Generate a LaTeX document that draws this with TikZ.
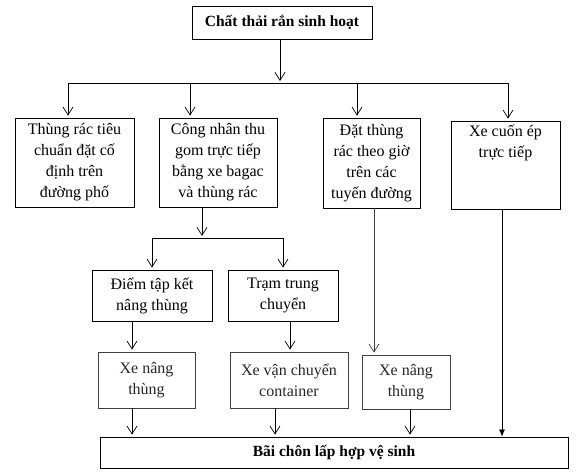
\documentclass[tikz,border=0pt]{standalone}
\usepackage{fontspec}
\setmainfont{Liberation Serif}
\usetikzlibrary{arrows.meta}
\tikzset{
  box/.style = {draw, line width=0.8pt, align=center, inner sep=0pt,
    font=\fontsize{16}{21}\selectfont},
  title/.style = {box, font=\fontsize{15.5}{21}\selectfont\bfseries},
  lite/.style = {box, draw=black!75, text=black!85},
  arr/.style = {-{Straight Barb[length=8pt,width=10pt]}, line width=0.7pt, shorten >=2pt},
  fillarr/.style = {-{Latex[length=7pt,width=6pt]}, line width=0.7pt}
}
\begin{document}
\begin{tikzpicture}[x=1pt, y=-1pt]
\useasboundingbox (0,0) rectangle (576,475);
\node[title, minimum width=180pt, minimum height=33pt] (top) at (282,22.5) {Chất thải rắn sinh hoạt};
\node[box, minimum width=119pt, minimum height=89pt] (b1) at (74.5,162.5) {Thùng rác tiêu\\chuẩn đặt cố\\định trên\\đường phố};
\node[box, minimum width=118pt, minimum height=89pt] (b2) at (218,162.5) {Công nhân thu\\gom trực tiếp\\bằng xe bagac\\và thùng rác};
\node[box, minimum width=97pt, minimum height=90pt] (b3) at (371.5,163) {Đặt thùng\\rác theo giờ\\trên các\\tuyến đường};
\node[box, minimum width=109pt, minimum height=88pt] (b4) at (505.5,165) {Xe cuốn ép\\trực tiếp\\ \strut\\ \strut};
\node[box, minimum width=120pt, minimum height=51pt] (d1) at (152,295.5) {Điểm tập kết\\nâng thùng};
\node[box, minimum width=110pt, minimum height=51pt] (d2) at (283,295.5) {Trạm trung\\chuyển};
\node[lite, minimum width=97pt, minimum height=56pt] (x1) at (146.5,380) {Xe nâng\\thùng};
\node[lite, minimum width=118pt, minimum height=56pt] (x2) at (289,380) {Xe vận chuyển\\container};
\node[lite, minimum width=88pt, minimum height=54pt] (x3) at (406,382) {Xe nâng\\thùng};
\node[title, minimum width=468pt, minimum height=31pt] (bot) at (334,452.5) {Bãi chôn lấp hợp vệ sinh};
\coordinate (split) at (280,83);
\coordinate (fork) at (202,238);
\draw[arr] (top.south -| split) -- (split);
\draw[line width=0.7pt] (68,83) -- (508,83);
\foreach \n/\x in {b1/68, b2/190, b3/357, b4/508}
{
	\draw[arr] (\x,83) -- (\n.north -| \x,0);
}
\draw[arr] (b2.south -| fork) -- (fork);
\draw[line width=0.7pt] (d1.north |- fork) -- (d2.north |- fork);
\draw[arr] (d1.north |- fork) -- (d1.north);
\draw[arr] (d2.north |- fork) -- (d2.north);
\draw[arr] (d1.south -| 132,0) -- (x1.north -| 132,0);
\draw[arr] (d2.south -| 290,0) -- (x2.north -| 290,0);
\draw[arr, black!75] (b3.south -| 374,0) -- (x3.north -| 374,0);
\foreach \n/\x in {x1/132, x2/275, x3/410}
{
	\draw[arr] (\n.south -| \x,0) -- (bot.north -| \x,0);
}
\draw[fillarr] (b4.south -| 502,0) -- (bot.north -| 502,0);
\end{tikzpicture}
\end{document}
